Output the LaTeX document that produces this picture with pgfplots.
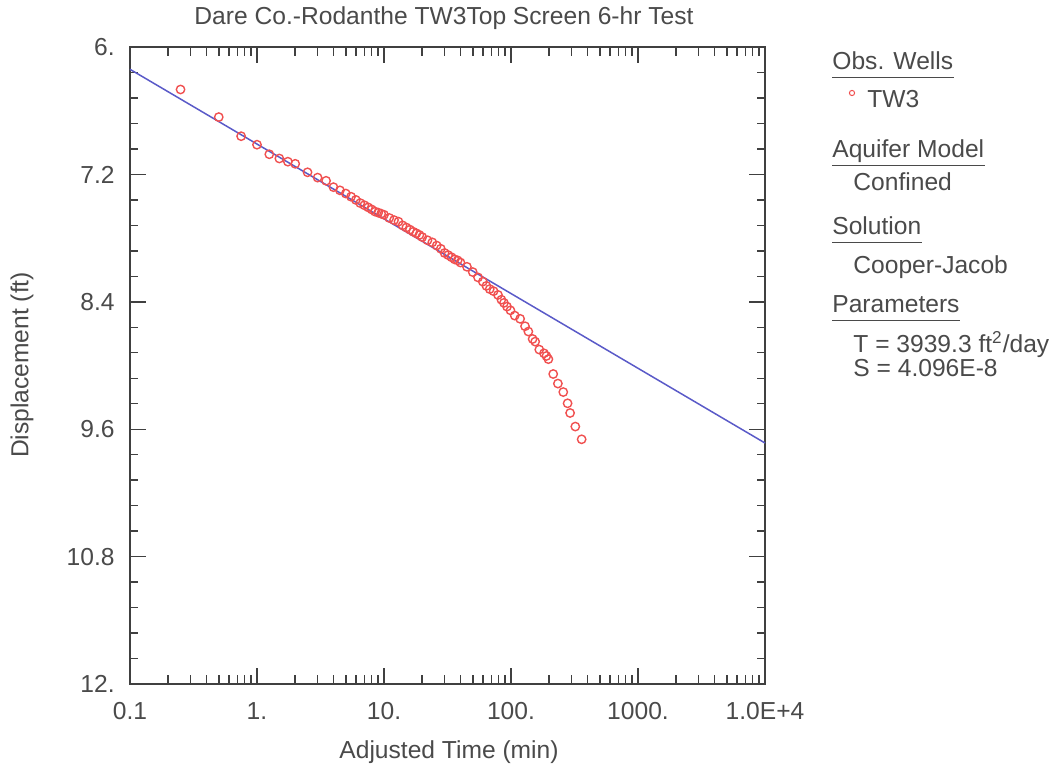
\documentclass[border=0pt]{standalone}
\usepackage{fontspec}
\setmainfont{Liberation Sans}
\usepackage{pgfplots}
\pgfplotsset{compat=1.18}
\definecolor{txtgray}{HTML}{4A4A4A}
\definecolor{fitblue}{HTML}{5A5AC8}
\definecolor{obsred}{HTML}{F05050}
\newcommand{\lblfont}{\fontsize{12.3}{14.5}\selectfont}

\pgfplotstableread{
t s
0.25 6.40
0.5 6.66
0.75 6.84
1 6.92
1.25 7.01
1.5 7.05
1.75 7.08
2 7.10
2.5 7.18
3 7.23
3.5 7.26
4 7.32
4.5 7.35
5 7.38
5.5 7.41
6 7.44
6.5 7.47
7 7.49
7.5 7.51
8 7.53
8.5 7.55
9 7.56
9.5 7.57
10 7.58
11 7.61
12 7.63
13 7.645
14 7.68
15 7.70
16 7.72
17 7.74
18 7.755
19 7.77
20 7.79
22 7.82
24 7.84
26 7.87
28 7.90
30 7.94
32 7.96
34 7.98
36 8.00
38 8.01
40 8.03
45 8.07
50 8.12
55 8.17
60 8.21
64 8.25
68 8.28
73 8.30
79 8.335
84 8.38
88 8.41
93 8.445
99 8.48
107 8.53
118 8.56
129 8.63
137 8.68
148 8.75
155 8.775
167 8.85
182 8.885
190 8.91
197 8.94
215 9.08
234 9.17
258 9.25
279 9.356
292 9.447
321 9.575
360 9.695
}\tw

\begin{document}
\begin{tikzpicture}[font=\lblfont, text=txtgray]
\useasboundingbox (0,0) rectangle (530.5pt,386.5pt);
\begin{axis}[
    at={(65pt,44.5pt)}, anchor=south west,
    scale only axis,
    width=317.5pt, height=318.5pt,
    xmode=log, log basis x=10, xmin=0.1, xmax=10000,
    ymin=6, ymax=12, y dir=reverse,
    xtick={0.1,1,10,100,1000,10000},
    xticklabels={0.1,1.,10.,100.,1000.,1.0E+4},
    ytick={6,7.2,8.4,9.6,10.8,12},
    yticklabels={6.,7.2,8.4,9.6,10.8,12.},
    minor y tick num=4,
    tick align=inside,
    major tick length=8pt, minor tick length=4pt,
    axis line style={draw=black!75, line width=0.75pt},
    tick style={draw=black!75, line width=0.7pt},
    tick label style={font=\lblfont, text=txtgray, inner sep=0pt},
    /pgf/number format/assume math mode=true,
    xticklabel shift=9pt,
    yticklabel shift=7.5pt,
    clip=false,
]
\addplot[color=fitblue, line width=0.75pt] coordinates {
    (0.1,6.21) (10000,9.73)
};
\addplot[only marks, mark=o, mark size=2.1pt, color=obsred,
    mark options={line width=0.7pt}] table[x=t, y=s] {\tw};
\end{axis}

% x ticks on bottom and top edges (63.5pt per decade)
\foreach \d in {1,...,4} {
  \pgfmathsetmacro{\xx}{65+63.5*\d}
  \draw[black!75, line width=0.8pt] (\xx pt,44.5pt) -- (\xx pt,52.5pt);
  \draw[black!75, line width=0.8pt] (\xx pt,363pt) -- (\xx pt,355pt);
}
\foreach \d in {0,...,4} {
  \foreach \m in {2,...,9} {
    \pgfmathsetmacro{\xx}{65+63.5*(\d+log10(\m))}
    \draw[black!75, line width=0.8pt] (\xx pt,44.5pt) -- (\xx pt,49pt);
    \draw[black!75, line width=0.8pt] (\xx pt,363pt) -- (\xx pt,358.5pt);
  }
}

% title and axis labels
\node at (222pt,377.5pt) {Dare Co.-Rodanthe TW3Top Screen 6-hr Test};
\node at (224.5pt,10.5pt) {Adjusted Time (min)};
\node[rotate=90] at (11pt,204pt) {Displacement (ft)};

% legend panel
\node[anchor=base west, inner sep=0pt] (h1) at (416pt,351.8pt) {Obs. Wells};
\draw[txtgray, line width=0.6pt] ([yshift=-4pt]h1.base west) -- ([yshift=-4pt]h1.base east);
\draw[obsred, line width=0.5pt] (426pt,340pt) circle (1.3pt);
\node[anchor=base west, inner sep=0pt] at (433.5pt,332.8pt) {TW3};

\node[anchor=base west, inner sep=0pt] (h2) at (416pt,307.7pt) {Aquifer Model};
\draw[txtgray, line width=0.6pt] ([yshift=-4pt]h2.base west) -- ([yshift=-4pt]h2.base east);
\node[anchor=base west, inner sep=0pt] at (426.5pt,291pt) {Confined};

\node[anchor=base west, inner sep=0pt] (h3) at (416pt,269.3pt) {Solution};
\draw[txtgray, line width=0.6pt] ([yshift=-4pt]h3.base west) -- ([yshift=-4pt]h3.base east);
\node[anchor=base west, inner sep=0pt] at (426.5pt,249.8pt) {Cooper-Jacob};

\node[anchor=base west, inner sep=0pt] (h4) at (416pt,230.2pt) {Parameters};
\draw[txtgray, line width=0.6pt] ([yshift=-4pt]h4.base west) -- ([yshift=-4pt]h4.base east);
\node[anchor=base west, inner sep=0pt] at (426.5pt,210.2pt) {T = 3939.3 ft\textsuperscript{2}/day};
\node[anchor=base west, inner sep=0pt] at (426.5pt,198.5pt) {S = 4.096E-8};
\end{tikzpicture}
\end{document}
